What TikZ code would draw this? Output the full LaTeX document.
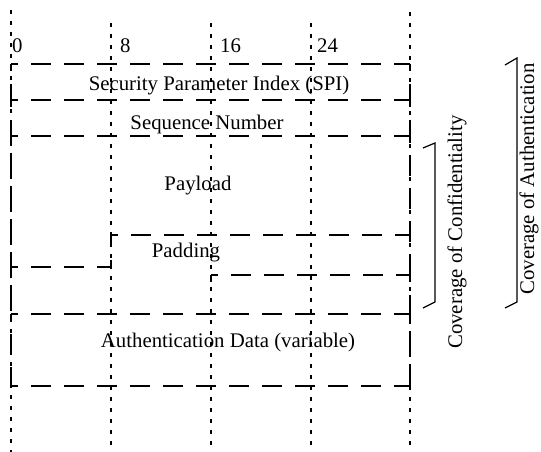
\documentclass[tikz,border=0pt]{standalone}
\usepackage{fontspec}
\setmainfont{Liberation Serif}
\tikzset{
    grid/.style={line width=1.3pt, dash pattern=on 4pt off 7pt},
    box/.style={line width=1.3pt, dash pattern=on 20pt off 13pt, dash phase=13pt},
    brace/.style={line width=1.2pt},
    lbl/.style={font=\fontsize{20.8}{24}\selectfont, inner sep=0pt}
}
\begin{document}
\begin{tikzpicture}[x=1pt,y=-1pt]
        \useasboundingbox (0,0) rectangle (541,452);
        %%%%%%%%%% Grid %%%%%%%%%%
        \draw[grid] (11,10) -- (11,452);
        \draw[grid] (410,12) -- (410,452);
        \foreach \x in {111,211,311}
            \draw[grid] (\x,23) -- (\x,452);

        \node[lbl, anchor=base west] (b0) at (12,53) {0};
        \node[lbl, anchor=base west] (b8) at (120,53) {8};
        \node[lbl, anchor=base west] (b16) at (220,53) {16};
        \node[lbl, anchor=base west] (b24) at (317,53) {24};

        %%%%%%%%%% Rows %%%%%%%%%%
        \foreach \y in {64,100,136,314,386}
            \draw[box] (11,\y) -- (410,\y);
        \foreach \a/\b in {64/100,100/136,136/267,267/314,314/386}
            \draw[box] (11,\a) -- (11,\b);
        \foreach \a/\b in {64/100,100/136,136/235,235/275,275/314,314/386}
            \draw[box] (410,\a) -- (410,\b);

        \draw[box] (111,235) -- (410,235);
        \draw[box] (11,267) -- (111,267);
        \draw[box] (111,267) -- (111,235);
        \draw[box] (211,275) -- (410,275);
        \draw[box] (211,275) -- (211,290);

        %%%%%%%%%% Text %%%%%%%%%%
        \node[lbl, anchor=base] (spi) at (219,91) {Security Parameter Index (SPI)};
        \node[lbl, anchor=base] (seq) at (207,129) {Sequence Number};
        \node[lbl, anchor=base] (pay) at (198,190) {Payload};
        \node[lbl, anchor=base] (pad) at (186,257) {Padding};
        \node[lbl, anchor=base] (auth) at (228,347) {Authentication Data (variable)};

        %%%%%%%%%% Coverage %%%%%%%%%%
        \draw[brace] (423,148) -- (435,143) -- (435,302) -- (423,308);
        \draw[brace] (505,65) -- (517,58) -- (517,302) -- (505,308);
        \node[lbl, rotate=90] (conf) at (457,232) {Coverage of Confidentiality};
        \node[lbl, rotate=90] (authc) at (529,179) {Coverage of Authentication};
\end{tikzpicture}
\end{document}
